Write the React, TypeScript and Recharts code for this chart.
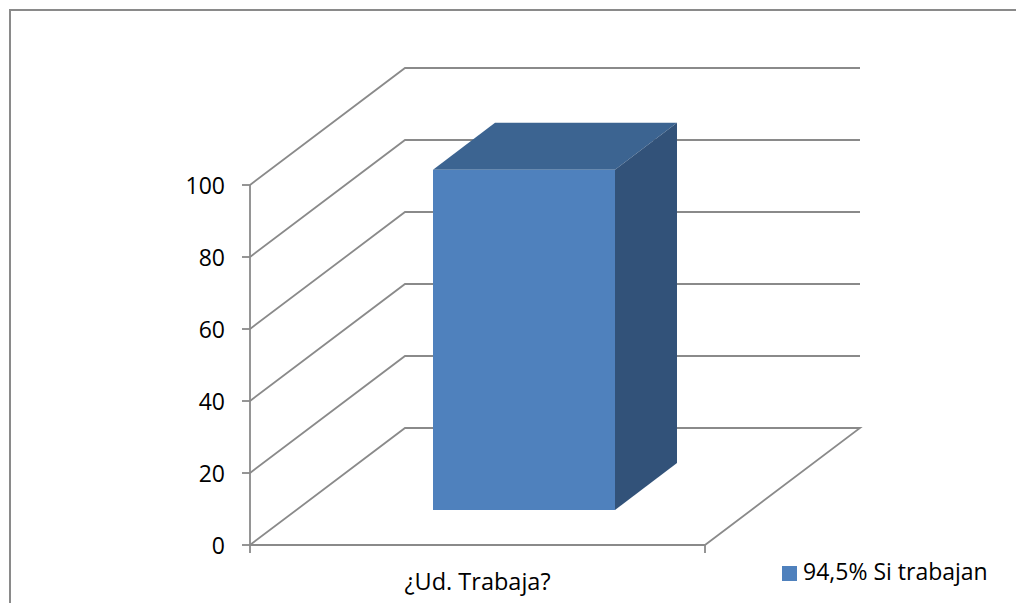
import { BarChart, Bar, XAxis, YAxis, CartesianGrid, Legend } from 'recharts';

const categories = ['¿Ud. Trabaja?'];
const workingValues = [94.5];
const yTicks = [0, 20, 40, 60, 80, 100];
const seriesName = '94,5% Si trabajan';

const data = categories.map((category, i) => ({ category, working: workingValues[i] }));

const FONT = '"Open Sans", sans-serif';
const LINE = '#8a8a8a';
const LINE_WIDTH = 1.8;
const PLOT_BOTTOM = 545;
const PLOT_WIDTH = 455;
// depth of the 3d box, back wall relative to the front plane
const WALL_DX = 155;
const WALL_DY = -117;
// the column stands 30% into the floor and is 40% as deep as the floor
const BAR_SHIFT_X = 46;
const BAR_SHIFT_Y = -35;
const BAR_DX = 62;
const BAR_DY = -47;

function GridLine(props: any) {
  const { x1, x2, y1 } = props;
  const backY = y1 + WALL_DY;
  const isFloor = Math.abs(y1 - PLOT_BOTTOM) < 1;
  const d = `M${x1},${y1} L${x1 + WALL_DX},${backY} L${x2 + WALL_DX},${backY}` + (isFloor ? ` L${x2},${y1}` : '');
  return <path d={d} fill="none" stroke={LINE} strokeWidth={LINE_WIDTH} />;
}

function Column3D(props: any) {
  const { x, y, width, height, fill } = props;
  const l = x + BAR_SHIFT_X;
  const t = y + BAR_SHIFT_Y;
  const r = l + width;
  const b = t + height;
  return (
    <g>
      <path d={`M${l},${t} L${l + BAR_DX},${t + BAR_DY} L${r + BAR_DX},${t + BAR_DY} L${r},${t} Z`} fill="#3c6491" />
      <path d={`M${r},${t} L${r + BAR_DX},${t + BAR_DY} L${r + BAR_DX},${b + BAR_DY} L${r},${b} Z`} fill="#325279" />
      <rect x={l} y={t} width={width} height={height} fill={fill} />
    </g>
  );
}

function CategoryTick(props: any) {
  const { x, payload } = props;
  return (
    <g>
      <line x1={x - PLOT_WIDTH / 2} x2={x - PLOT_WIDTH / 2} y1={PLOT_BOTTOM} y2={PLOT_BOTTOM + 8} stroke={LINE} strokeWidth={LINE_WIDTH} />
      <line x1={x + PLOT_WIDTH / 2} x2={x + PLOT_WIDTH / 2} y1={PLOT_BOTTOM} y2={PLOT_BOTTOM + 8} stroke={LINE} strokeWidth={LINE_WIDTH} />
      <text x={x} y={PLOT_BOTTOM + 45} textAnchor="middle" fontSize={23.5} fontFamily={FONT} fill="#000">
        {payload.value}
      </text>
    </g>
  );
}

export default function App() {
  return (
    <div style={{ position: 'absolute', left: 0, top: 0, width: 1016, height: 603, background: '#fff', overflow: 'hidden' }}>
      <div style={{ position: 'absolute', left: 9, top: 9, width: 1100, height: 700, borderLeft: `2px solid ${LINE}`, borderTop: `2px solid ${LINE}` }} />
      <BarChart
        width={1016}
        height={603}
        data={data}
        margin={{ top: 155, right: 311, bottom: 18, left: 190 }}
        style={{ position: 'absolute', left: 0, top: 0 }}
      >
        <CartesianGrid horizontal={(p: any) => <GridLine key={p.key} {...p} />} vertical={false} />
        <XAxis
          dataKey="category"
          height={40}
          axisLine={{ stroke: LINE, strokeWidth: LINE_WIDTH }}
          tickLine={false}
          tick={(p: any) => <CategoryTick {...p} />}
          interval={0}
        />
        <YAxis
          width={60}
          domain={[0, 100]}
          ticks={yTicks}
          axisLine={{ stroke: LINE, strokeWidth: LINE_WIDTH }}
          tickLine={{ stroke: LINE, strokeWidth: LINE_WIDTH }}
          tickSize={8}
          tickMargin={17}
          tick={{ fontSize: 23, fontFamily: FONT, fill: '#000', dy: 1 }}
        />
        <Bar dataKey="working" name={seriesName} fill="#4f81bd" barSize={182} isAnimationActive={false} shape={(p: any) => <Column3D {...p} />} />
        <Legend
          layout="horizontal"
          align="left"
          verticalAlign="top"
          iconType="square"
          iconSize={15}
          formatter={(value: string) => <span style={{ color: '#000', paddingLeft: 2 }}>{value}</span>}
          wrapperStyle={{ position: 'absolute', left: 782, top: 556, width: 234, fontSize: 23, fontFamily: FONT, lineHeight: '30px' }}
        />
      </BarChart>
    </div>
  );
}
